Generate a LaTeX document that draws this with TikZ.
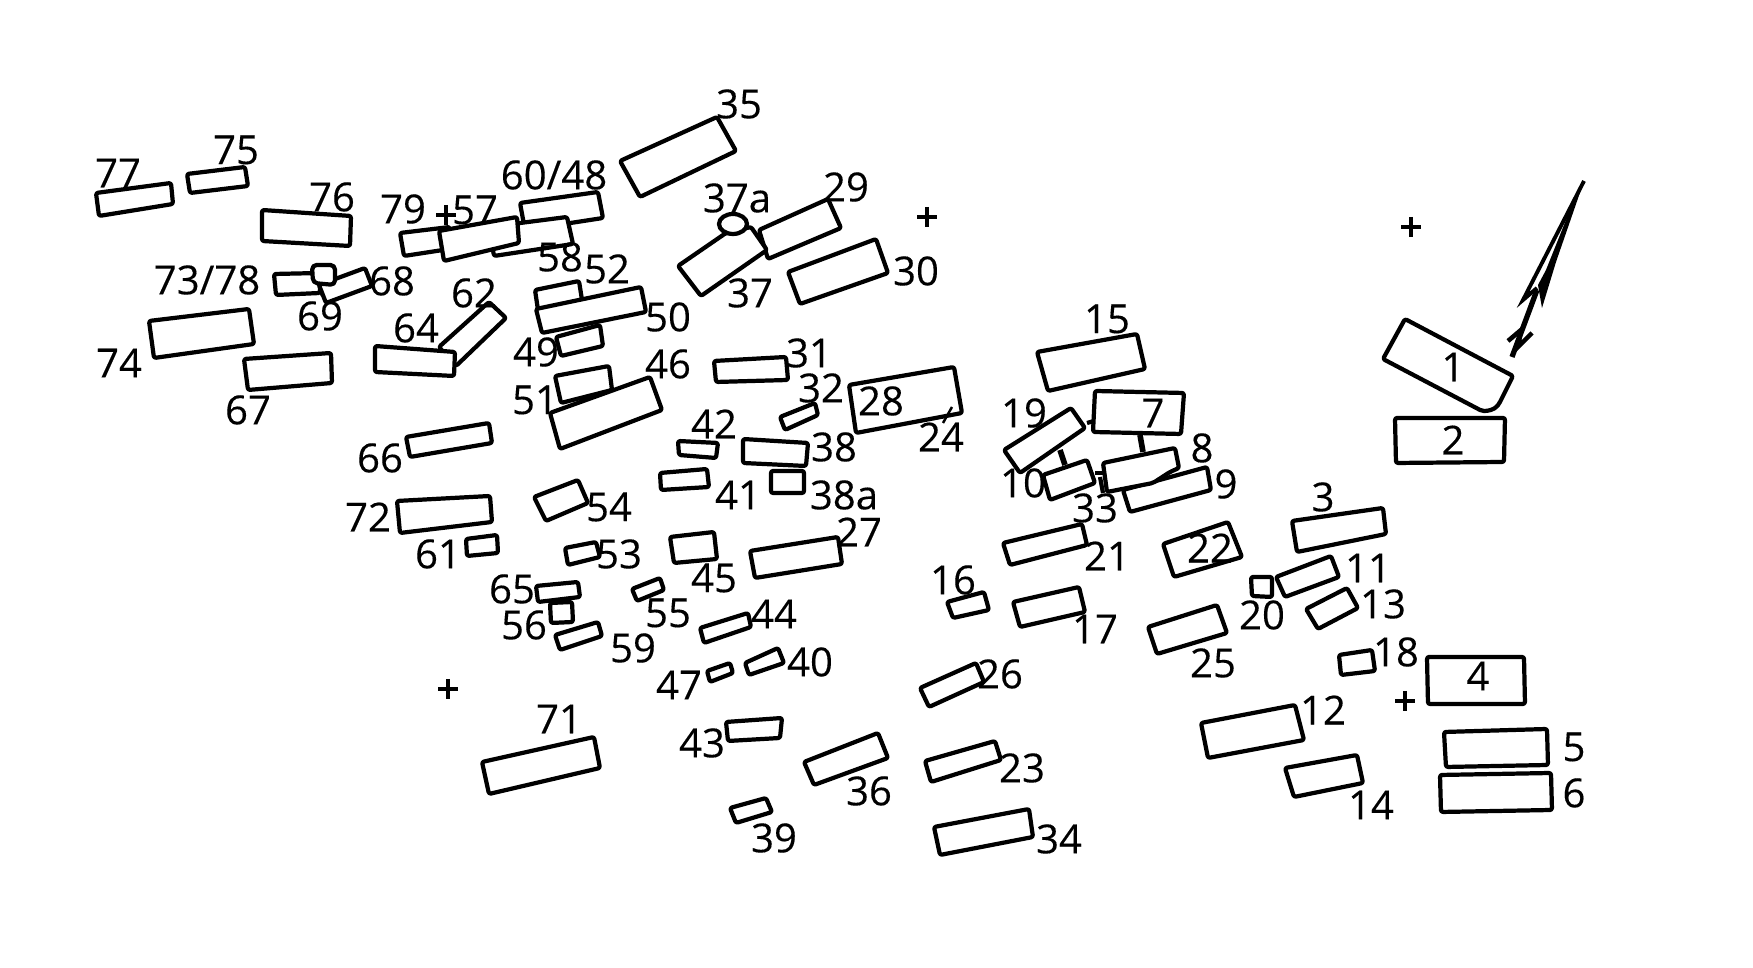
\documentclass[tikz,border=0pt]{standalone}
\usepackage{fontspec}
\setmainfont[FakeBold=0.25]{Open Sans}
\tikzset{
    bldg/.style={draw, fill=white, line width=1.2pt, rounded corners=0.6pt, line join=round},
    lbl/.style={inner sep=0pt, font=\fontsize{11.4}{12}\selectfont},
    regmark/.style={line width=1.2pt},
    link/.style={line width=1.2pt}
}

\begin{document}
\begin{tikzpicture}[x=0.01cm, y=-0.01cm]

    \useasboundingbox (0,0) rectangle (1753,968);

    \draw[bldg] (96,193) -- (171,183) -- (173,204) -- (99,216) -- cycle;
    \draw[bldg] (187,174) -- (245,167) -- (248,186) -- (190,193) -- cycle;
    \draw[bldg] (262,210) -- (351,216) -- (350,246) -- (262,241) -- cycle;
    \draw[bldg] (400,233) -- (450,227) -- (443,250) -- (404,256) -- cycle;
    \draw[bldg] (520,203) -- (598,192) -- (603,218) -- (525,230) -- cycle;
    \draw[bldg] (489,227) -- (567,217) -- (573,244) -- (494,256) -- cycle;
    \draw[bldg] (439,231) -- (517,217) -- (519,243) -- (444,261) -- cycle;
    \draw[bldg] (274,274) -- (320,273) -- (320,293) -- (276,295) -- cycle;
    \draw[bldg] (319,285) -- (365,268) -- (372,286) -- (326,303) -- cycle;
    \draw[bldg, rounded corners=1.3pt] (312,265) -- (335,265) -- (335,285) -- (313,283) -- cycle;
    \draw[link, line width=0.7pt] (318,284) -- (322,296);
    \draw[bldg] (149,321) -- (249,309) -- (254,344) -- (154,358) -- cycle;
    \draw[bldg] (244,359) -- (331,353) -- (332,383) -- (248,390) -- cycle;
    \draw[bldg] (489,302) -- (506,318) -- (456,366) -- (439,347) -- cycle;
    \draw[bldg] (375,346) -- (455,352) -- (454,376) -- (375,372) -- cycle;
    \draw[bldg] (556,337) -- (600,325) -- (603,346) -- (561,356) -- cycle;
    \draw[bldg] (535,290) -- (579,281) -- (582,300) -- (538,310) -- cycle;
    \draw[bldg] (536,309) -- (641,287) -- (646,312) -- (542,333) -- cycle;
    \draw[bldg] (555,376) -- (609,366) -- (612,390) -- (561,403) -- cycle;
    \draw[bldg] (550,413) -- (650,377) -- (662,410) -- (560,449) -- cycle;

    \draw[bldg] (406,437) -- (489,423) -- (492,443) -- (410,457) -- cycle;
    \draw[bldg] (397,501) -- (490,496) -- (492,522) -- (400,533) -- cycle;
    \draw[bldg] (466,539) -- (497,535) -- (498,553) -- (467,556) -- cycle;
    \draw[bldg] (534,497) -- (578,480) -- (588,503) -- (546,521) -- cycle;
    \draw[bldg] (565,548) -- (596,542) -- (600,557) -- (568,565) -- cycle;
    \draw[bldg] (550,603) -- (572,602) -- (573,622) -- (551,623) -- cycle;
    \draw[bldg] (536,586) -- (578,582) -- (580,597) -- (538,602) -- cycle;
    \draw[bldg] (555,635) -- (598,622) -- (602,636) -- (560,650) -- cycle;
    \draw[bldg] (632,589) -- (660,578) -- (664,590) -- (637,601) -- cycle;
    \draw[bldg] (670,537) -- (714,532) -- (717,559) -- (674,563) -- cycle;
    \draw[bldg] (750,551) -- (838,537) -- (842,564) -- (755,578) -- cycle;
    \draw[bldg] (700,628) -- (748,613) -- (751,627) -- (704,643) -- cycle;
    \draw[bldg] (745,663) -- (778,648) -- (784,663) -- (749,675) -- cycle;
    \draw[bldg] (707,671) -- (730,663) -- (733,673) -- (710,682) -- cycle;
    \draw[bldg] (678,441) -- (718,443) -- (716,458) -- (679,455) -- cycle;
    \draw[bldg] (660,473) -- (707,469) -- (709,487) -- (661,490) -- cycle;
    \draw[bldg] (743,439) -- (808,443) -- (806,466) -- (743,463) -- cycle;
    \draw[bldg] (771,471) -- (804,471) -- (804,493) -- (771,493) -- cycle;
    \draw[bldg] (780,417) -- (815,403) -- (818,415) -- (785,430) -- cycle;

    \draw[bldg] (620,161) -- (717,117) -- (736,151) -- (640,197) -- cycle;
    \draw[bldg] (759,230) -- (828,199) -- (841,228) -- (768,259) -- cycle;
    \draw[bldg] (678,266) -- (726,233) -- (751,227) -- (767,250) -- (701,296) -- cycle;
    \draw[bldg] (733,224) ellipse (14 and 10);
    \draw[bldg] (788,272) -- (876,239) -- (888,273) -- (800,304) -- cycle;
    \draw[bldg] (714,361) -- (786,357) -- (788,380) -- (716,382) -- cycle;
    \draw[bldg] (849,385) -- (954,367) -- (962,413) -- (856,433) -- cycle;
    \draw[link, line width=0.7pt] (952,407) -- (943,423);

    \draw[bldg] (1037,352) -- (1137,334) -- (1145,369) -- (1048,391) -- cycle;
    \draw[link] (1087,423) -- (1094,421);
    \draw[link, line width=1.6pt] (1060,450) -- (1065,465);
    \draw[link, line width=1.6pt] (1140,435) -- (1143,452);
    \draw[link] (1095,473) -- (1105,473);
    \draw[link] (1100,477) -- (1103,493);
    \draw[bldg] (1095,391) -- (1184,393) -- (1181,434) -- (1093,432) -- cycle;
    \draw[bldg] (1004,450) -- (1071,408) -- (1085,428) -- (1020,473) -- cycle;
    \draw[bldg] (1043,475) -- (1087,460) -- (1095,483) -- (1050,500) -- cycle;
    \draw[bldg] (1123,490) -- (1207,467) -- (1211,490) -- (1130,512) -- cycle;
    \draw[bldg] (1103,463) -- (1175,448) -- (1179,468) -- (1170,472) -- (1153,483) -- (1107,492) -- cycle;
    \draw[bldg] (1003,543) -- (1082,524) -- (1087,545) -- (1010,565) -- cycle;
    \draw[bldg] (1163,544) -- (1228,522) -- (1242,557) -- (1174,577) -- cycle;
    \draw[bldg] (1292,521) -- (1383,508) -- (1386,534) -- (1297,552) -- cycle;
    \draw[bldg] (1251,577) -- (1272,577) -- (1272,597) -- (1252,596) -- cycle;
    \draw[bldg] (1276,577) -- (1331,556) -- (1339,577) -- (1285,597) -- cycle;
    \draw[bldg] (1306,609) -- (1347,588) -- (1358,608) -- (1318,629) -- cycle;
    \draw[bldg] (1148,627) -- (1217,605) -- (1227,633) -- (1157,654) -- cycle;
    \draw[bldg] (1339,655) -- (1372,650) -- (1375,671) -- (1341,675) -- cycle;
    \draw[bldg] (1427,657) -- (1524,657) -- (1525,704) -- (1428,704) -- cycle;
    \draw[bldg] (1444,732) -- (1547,729) -- (1548,765) -- (1446,767) -- cycle;
    \draw[bldg] (1440,775) -- (1551,773) -- (1552,810) -- (1441,812) -- cycle;
    \draw[bldg] (1201,723) -- (1295,705) -- (1304,740) -- (1208,758) -- cycle;
    \draw[bldg] (1285,768) -- (1357,755) -- (1363,783) -- (1294,797) -- cycle;

    \draw[bldg] (947,602) -- (984,592) -- (989,610) -- (953,618) -- cycle;
    \draw[bldg] (1013,602) -- (1079,587) -- (1085,612) -- (1020,627) -- cycle;
    \draw[bldg] (920,688) -- (976,663) -- (984,682) -- (929,707) -- cycle;
    \draw[bldg] (482,762) -- (594,737) -- (600,768) -- (489,794) -- cycle;
    \draw[bldg] (726,722) -- (782,718) -- (780,738) -- (728,741) -- cycle;
    \draw[bldg] (804,762) -- (878,733) -- (888,758) -- (814,785) -- cycle;
    \draw[bldg] (925,761) -- (995,741) -- (1001,760) -- (931,782) -- cycle;
    \draw[bldg] (730,808) -- (766,798) -- (772,812) -- (736,823) -- cycle;
    \draw[bldg] (934,827) -- (1029,809) -- (1033,837) -- (940,855) -- cycle;

    \draw[bldg] (1405,319) -- (1513,376) -- (1499,404) .. controls (1494,410) and (1488,411) .. (1482,411) -- (1383,359) -- cycle;
    \draw[bldg] (1395,418) -- (1505,418) -- (1504,462) -- (1396,463) -- cycle;

    \draw[link, line join=miter, line width=1.1pt] (1584,181) -- (1523,300) -- (1537,288);
    \fill (1584,181) -- (1556,262) -- (1542,308) -- (1538,285) -- (1546,270) -- (1568,215) -- cycle;
    \draw[link, line width=1.5pt] (1537,290) -- (1512,357);
    \draw[link, line width=1.3pt] (1508,341) -- (1521,330) -- (1518,347) -- (1532,333);

    \foreach \x/\y in {1411/227, 927/217, 1405/701, 448/689, 446/215}
    {
        \draw[regmark] (\x-10,\y) -- (\x+10,\y);
        \draw[regmark] (\x,\y-10) -- (\x,\y+10);
    }

    \node(t1)[lbl] at (1453,367) {1};
    \node(t2)[lbl] at (1453,440) {2};
    \node(t3)[lbl] at (1323,497) {3};
    \node(t4)[lbl] at (1478,676) {4};
    \node(t5)[lbl] at (1574,747) {5};
    \node(t6)[lbl] at (1574,793) {6};
    \node(t7)[lbl] at (1153,413) {7};
    \node(t8)[lbl] at (1202,448) {8};
    \node(t9)[lbl] at (1226,484) {9};
    \node(t10)[lbl] at (1023,483) {10};
    \node(t11)[lbl] at (1368,568) {11};
    \node(t12)[lbl] at (1323,710) {12};
    \node(t13)[lbl] at (1383,604) {13};
    \node(t14)[lbl] at (1371,805) {14};
    \node(t15)[lbl] at (1107,319) {15};
    \node(t16)[lbl] at (953,580) {16};
    \node(t17)[lbl] at (1095,629) {17};
    \node(t18)[lbl] at (1396,652) {18};
    \node(t19)[lbl] at (1024,413) {19};
    \node(t20)[lbl] at (1262,615) {20};
    \node(t21)[lbl] at (1107,556) {21};
    \node(t22)[lbl] at (1210,548) {22};
    \node(t23)[lbl] at (1022,768) {23};
    \node(t24)[lbl] at (941,437) {24};
    \node(t25)[lbl] at (1213,663) {25};
    \node(t26)[lbl] at (1000,674) {26};
    \node(t27)[lbl] at (859,532) {27};
    \node(t28)[lbl] at (881,401) {28};
    \node(t29)[lbl] at (846,187) {29};
    \node(t30)[lbl] at (916,271) {30};
    \node(t31)[lbl] at (809,353) {31};
    \node(t32)[lbl] at (821,388) {32};
    \node(t33)[lbl] at (1095,508) {33};
    \node(t34)[lbl] at (1059,839) {34};
    \node(t35)[lbl] at (739,104) {35};
    \node(t36)[lbl] at (869,791) {36};
    \node(t37)[lbl] at (750,293) {37};
    \node(t37a)[lbl] at (737,198) {37a};
    \node(t38)[lbl] at (834,447) {38};
    \node(t38a)[lbl] at (844,495) {38a};
    \node(t39)[lbl] at (774,838) {39};
    \node(t40)[lbl] at (810,662) {40};
    \node(t41)[lbl] at (738,495) {41};
    \node(t42)[lbl] at (714,424) {42};
    \node(t43)[lbl] at (702,743) {43};
    \node(t44)[lbl] at (774,614) {44};
    \node(t45)[lbl] at (714,578) {45};
    \node(t46)[lbl] at (668,364) {46};
    \node(t47)[lbl] at (679,685) {47};
    \node(t49)[lbl] at (536,352) {49};
    \node(t50)[lbl] at (668,317) {50};
    \node(t51)[lbl] at (535,400) {51};
    \node(t52)[lbl] at (607,269) {52};
    \node(t53)[lbl] at (619,554) {53};
    \node(t54)[lbl] at (609,507) {54};
    \node(t55)[lbl] at (668,613) {55};
    \node(t56)[lbl] at (524,625) {56};
    \node(t57)[lbl] at (475,210) {57};
    \node(t58)[lbl] at (560,257) {58};
    \node(t59)[lbl] at (633,648) {59};
    \node(t60)[lbl] at (554,175) {60/48};
    \node(t61)[lbl] at (438,554) {61};
    \node(t62)[lbl] at (474,293) {62};
    \node(t64)[lbl] at (416,328) {64};
    \node(t65)[lbl] at (512,589) {65};
    \node(t66)[lbl] at (380,458) {66};
    \node(t67)[lbl] at (248,410) {67};
    \node(t68)[lbl] at (392,281) {68};
    \node(t69)[lbl] at (320,316) {69};
    \node(t71)[lbl] at (559,719) {71};
    \node(t72)[lbl] at (368,517) {72};
    \node(t73)[lbl] at (207,280) {73/78};
    \node(t74)[lbl] at (119,363) {74};
    \node(t75)[lbl] at (236,150) {75};
    \node(t76)[lbl] at (332,197) {76};
    \node(t77)[lbl] at (118,173) {77};
    \node(t79)[lbl] at (403,209) {79};
\end{tikzpicture}
\end{document}
